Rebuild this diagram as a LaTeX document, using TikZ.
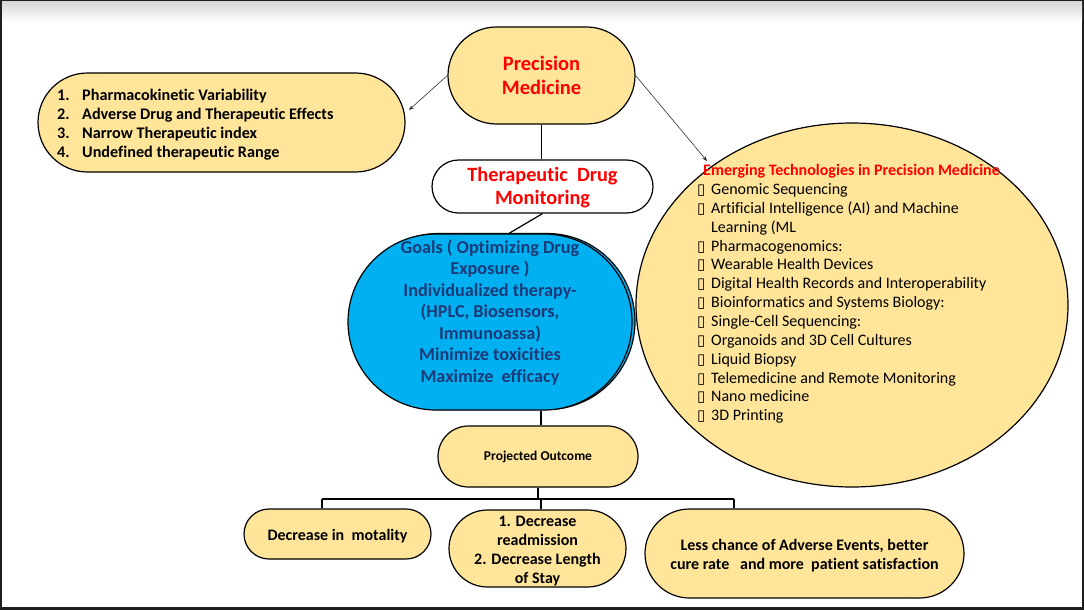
\documentclass[tikz,border=0pt]{standalone}
\usepackage{fontspec}
\setmainfont{Carlito}[Ligatures={NoCommon}]
\newfontfamily\dejavu{DejaVu Sans}
\usetikzlibrary{shapes.geometric,arrows.meta}
\definecolor{pmyellow}{HTML}{FFE599}
\definecolor{tdmblue}{HTML}{00B0F0}
\definecolor{navytext}{HTML}{1C3A78}
\definecolor{framedark}{HTML}{1E1E1E}
\definecolor{topgray}{HTML}{D8D8D8}
\newcommand\bx{\makebox[14pt][l]{\dejavu\fontsize{15}{15}\selectfont ▯}}
\newcommand\lowtxt[2]{\raisebox{-#1}[\height][\depth]{\begin{tabular}{@{}c@{}}#2\end{tabular}}}
\begin{document}
\begin{tikzpicture}[x=1pt,y=-1pt,
  pill/.style 2 args={rectangle, draw=black, line width=1.2pt, fill=pmyellow,
    minimum width=#1, minimum height=#2, rounded corners=#2/2, inner sep=0pt, align=center},
  conn/.style={draw=black, line width=1.2pt},
  arr/.style={draw=black!80, line width=0.6pt, -{Stealth[length=5pt,width=4pt]}},
  txt/.style={inner sep=0pt, align=left}]
\useasboundingbox (0,0) rectangle (1084,610);
\fill[framedark] (0,0) rectangle (1084,610);
\fill[white] (2,2) rectangle (1082,607);
\shade[top color=topgray, bottom color=white] (2,2) rectangle (1082,22);

% Precision Medicine
\node[pill={187pt}{97pt}, text=red, font=\fontsize{20.5}{24}\selectfont\bfseries] (pm) at (541.5,75.5) {Precision\\Medicine};

% Left list
\node[pill={367pt}{99pt}] (lst) at (221.5,122.5) {};
\node[txt, anchor=west, font=\fontsize{16.2}{19}\selectfont\bfseries] (lsttxt) at (57,125) {%
\makebox[25pt][l]{1.}Pharmacokinetic Variability\\
\makebox[25pt][l]{2.}Adverse Drug and Therapeutic Effects\\
\makebox[25pt][l]{3.}Narrow Therapeutic index\\
\makebox[25pt][l]{4.}Undefined therapeutic Range};

% Therapeutic Drug Monitoring
\node[pill={221pt}{53pt}, fill=white, text=red, font=\fontsize{20.3}{23}\selectfont\bfseries] (tdm) at (542.5,186.5) {\lowtxt{2pt}{Therapeutic~~Drug\\Monitoring}};

% Emerging technologies
\node[ellipse, draw=black, line width=1.2pt, fill=pmyellow, minimum width=432pt, minimum height=364pt, inner sep=0pt] (et) at (852,305) {};
\node[txt, anchor=west, font=\fontsize{16}{18.85}\selectfont] (ettxt) at (697,294) {%
\hspace*{6pt}{\bfseries\color{red}Emerging Technologies in Precision Medicine}\\
\bx Genomic Sequencing\\
\bx Artificial Intelligence (AI) and Machine\\
\hspace*{14pt}Learning (ML\\
\bx Pharmacogenomics:\\
\bx Wearable Health Devices\\
\bx Digital Health Records and Interoperability\\
\bx Bioinformatics and Systems Biology:\\
\bx Single-Cell Sequencing:\\
\bx Organoids and 3D Cell Cultures\\
\bx Liquid Biopsy\\
\bx Telemedicine and Remote Monitoring\\
\bx Nano medicine\\
\bx 3D Printing};

% Blue goals
\node[pill={284pt}{176pt}, fill=tdmblue] (blueback) at (493,321.5) {};
\node[pill={284pt}{176pt}, fill=tdmblue] (blue) at (490,322) {};
\node[inner sep=0pt, align=center, text=navytext, font=\fontsize{18.2}{21.5}\selectfont\bfseries] (bluetxt) at (490,312.5) {%
Goals ( Optimizing Drug\\Exposure )\\Individualized therapy-\\(HPLC, Biosensors,\\Immunoassa)\\Minimize toxicities\\Maximize~~efficacy};

% Projected outcome
\node[pill={200pt}{61pt}, font=\fontsize{13.5}{16}\selectfont\bfseries] (po) at (538,456.5) {\lowtxt{1pt}{Projected Outcome}};

% Outcomes
\node[pill={187pt}{50pt}, font=\fontsize{16}{19}\selectfont\bfseries] (o1) at (337.5,534) {\lowtxt{3pt}{Decrease in~~motality}};
\node[pill={177pt}{77pt}, font=\fontsize{16}{19}\selectfont\bfseries] (o2) at (537.5,548.5) {\lowtxt{3pt}{1. Decrease\\readmission\\2. Decrease Length\\of Stay}};
\node[pill={319pt}{89pt}, font=\fontsize{16}{19}\selectfont\bfseries] (o3) at (804.5,553.5) {\lowtxt{3pt}{Less chance of Adverse Events, better\\cure rate~~~and more~~patient satisfaction}};

% Connectors
\draw[conn] (pm.south) -- (pm.south |- tdm.north);
\coordinate (lstin) at (409,110);
\draw[arr] (pm.west) -- (lstin);
\coordinate (etin) at (707,161);
\draw[arr] (pm.east) -- (etin);
\coordinate (bin) at (508,234);
\draw[conn] (tdm.south) -- (bin);
\draw[conn] (blue.south -| 541,0) -- (po.north -| 541,0);
\coordinate (bus) at (538,499);
\coordinate (b1) at (322,499);
\coordinate (b3) at (734,499);
\draw[conn] (po.south) -- (bus);
\draw[conn] (b1) -- (b3);
\draw[conn] (b1) -- (b1 |- o1.north);
\draw[conn] (bus -| 541,0) -- (o2.north -| 541,0);
\draw[conn] (b3) -- (b3 |- o3.north);
\end{tikzpicture}
\end{document}
